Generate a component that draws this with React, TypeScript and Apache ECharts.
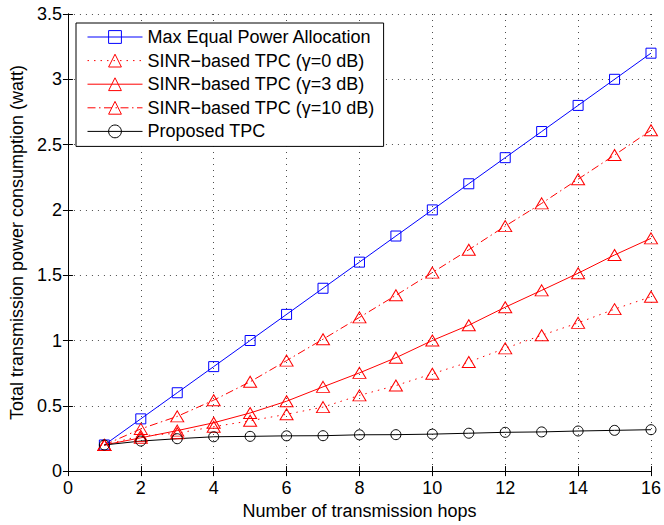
import React, { useEffect, useRef } from "react";
import * as echarts from "echarts";

const hops = [1, 2, 3, 4, 5, 6, 7, 8, 9, 10, 11, 12, 13, 14, 15, 16];
const maxEqual = [0.2, 0.4, 0.6, 0.8, 1.0, 1.2, 1.4, 1.6, 1.8, 2.0, 2.2, 2.4, 2.6, 2.8, 3.0, 3.2];
const sinr0 = [0.2, 0.27, 0.29, 0.34, 0.385, 0.435, 0.49, 0.58, 0.655, 0.745, 0.835, 0.94, 1.04, 1.135, 1.24, 1.335];
const sinr3 = [0.2, 0.255, 0.31, 0.37, 0.445, 0.535, 0.645, 0.752, 0.868, 1.0, 1.117, 1.255, 1.384, 1.515, 1.655, 1.782];
const sinr10 = [0.2, 0.323, 0.419, 0.543, 0.684, 0.846, 1.01, 1.177, 1.346, 1.52, 1.695, 1.876, 2.05, 2.235, 2.42, 2.61];
const proposed = [0.2, 0.23, 0.248, 0.263, 0.266, 0.27, 0.271, 0.278, 0.279, 0.283, 0.29, 0.297, 0.3, 0.307, 0.312, 0.317];

const seriesNames = [
  "Max Equal Power Allocation",
  "SINR\u2212based TPC (\u03b3=0 dB)",
  "SINR\u2212based TPC (\u03b3=3 dB)",
  "SINR\u2212based TPC (\u03b3=10 dB)",
  "Proposed TPC",
];

const FONT = "'Liberation Sans', Arial, Helvetica, sans-serif";

function pairs(vals: number[]) {
  return hops.map((h, i) => [h, vals[i]]);
}

export default function App() {
  const ref = useRef<HTMLDivElement>(null);
  useEffect(() => {
    if (!ref.current) return;
    const chart = echarts.init(ref.current, null, { renderer: "svg" });
    const mk = (
      name: string,
      vals: number[],
      color: string,
      symbol: string,
      size: number | number[],
      type: any
    ) => ({
      name,
      type: "line",
      data: pairs(vals),
      symbol,
      symbolSize: size,
      showSymbol: true,
      lineStyle: { color, width: 1, type },
      itemStyle: { color: "rgba(0,0,0,0)", borderColor: color, borderWidth: 1 },
      emphasis: { disabled: true },
      z: 3,
    });
    const axisCommon = {
      axisLine: { show: true, lineStyle: { color: "#000", width: 1 } },
      axisTick: { show: true, inside: true, length: 5, lineStyle: { color: "#000" } },
    };
    chart.setOption({
      animation: false,
      backgroundColor: "#fff",
      grid: { left: 67, top: 14, right: 10.5, bottom: 49, containLabel: false },
      legend: {
        orient: "vertical",
        left: 76,
        top: 23,
        padding: [5, 9, 6, 11],
        itemWidth: 55,
        itemHeight: 16,
        itemGap: 5.6,
        backgroundColor: "#fff",
        borderColor: "#000",
        borderWidth: 1,
        borderRadius: 0,
        data: seriesNames,
        lineStyle: { width: 1 },
        itemStyle: { borderWidth: 1 },
        textStyle: { fontSize: 18, fontFamily: FONT, color: "#000", lineHeight: 18, padding: [0, 0, 0, 0] },
      },
      xAxis: [
        {
          type: "value",
          min: 0,
          max: 16,
          interval: 2,
          position: "bottom",
          name: "Number of transmission hops",
          nameLocation: "middle",
          nameGap: 26,
          nameTextStyle: { fontSize: 18, fontFamily: FONT, color: "#000" },
          ...axisCommon,
          axisLabel: { fontSize: 18, fontFamily: FONT, color: "#000", margin: 8 },
          splitLine: { show: true, lineStyle: { color: "#000", width: 1, type: [1, 5], opacity: 0.7 } },
        },
        {
          type: "value",
          min: 0,
          max: 16,
          interval: 2,
          position: "top",
          ...axisCommon,
          axisLabel: { show: false },
          splitLine: { show: false },
        },
      ],
      yAxis: [
        {
          type: "value",
          min: 0,
          max: 3.5,
          interval: 0.5,
          position: "left",
          name: "Total transmission power consumption (watt)",
          nameLocation: "middle",
          nameGap: 39,
          nameTextStyle: { fontSize: 18, fontFamily: FONT, color: "#000" },
          ...axisCommon,
          axisLabel: { fontSize: 18, fontFamily: FONT, color: "#000", margin: 6 },
          splitLine: { show: true, lineStyle: { color: "#000", width: 1, type: [1, 5], opacity: 0.7 } },
        },
        {
          type: "value",
          min: 0,
          max: 3.5,
          interval: 0.5,
          position: "right",
          ...axisCommon,
          axisLabel: { show: false },
          splitLine: { show: false },
        },
      ],
      series: [
        mk(seriesNames[0], maxEqual, "#0000ff", "rect", 10, "solid"),
        mk(seriesNames[1], sinr0, "#ff0000", "triangle", [13, 11], [1.5, 5]),
        mk(seriesNames[2], sinr3, "#ff0000", "triangle", [13, 11], "solid"),
        mk(seriesNames[3], sinr10, "#ff0000", "triangle", [13, 11], [8, 3.5, 1.5, 3.5]),
        mk(seriesNames[4], proposed, "#000000", "circle", 10, "solid"),
      ],
    });
    return () => chart.dispose();
  }, []);
  return (
    <div
      ref={ref}
      style={{ position: "fixed", left: 0, top: 0, width: 664, height: 525, background: "#fff" }}
    />
  );
}
